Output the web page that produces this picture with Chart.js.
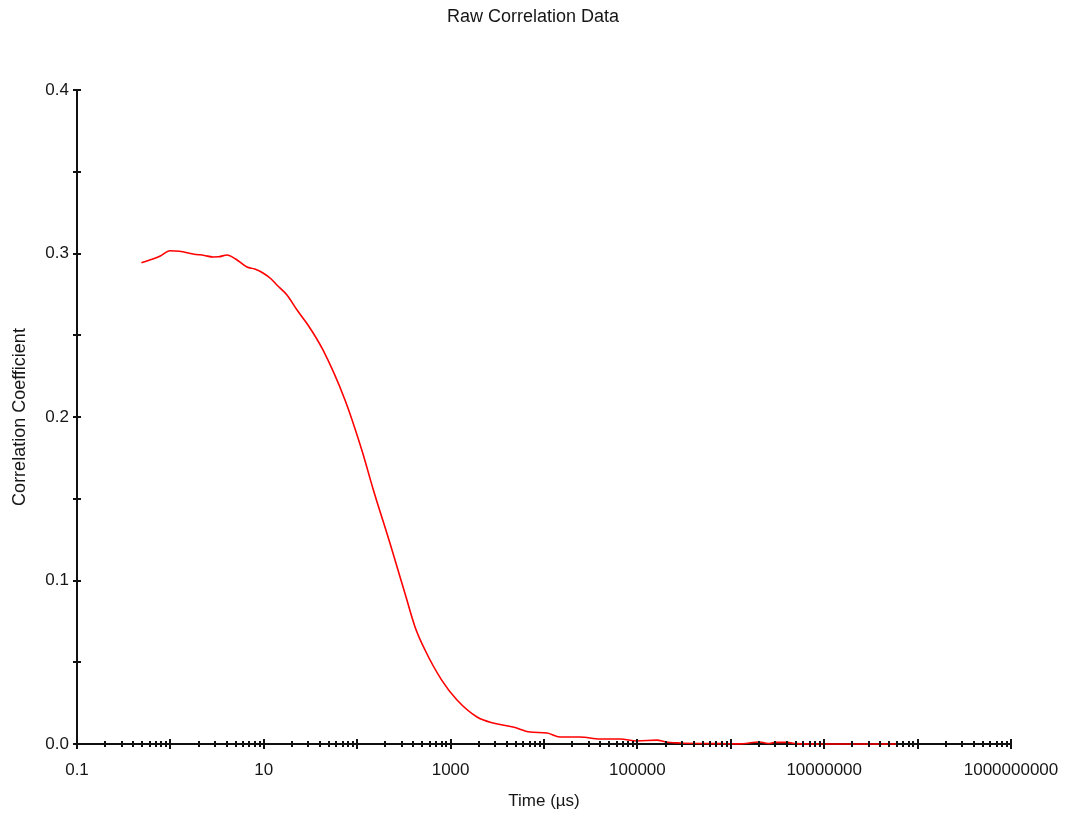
<!DOCTYPE html>
<html>
<head>
<meta charset="utf-8">
<title>Raw Correlation Data</title>
<script src="https://cdn.jsdelivr.net/npm/chart.js@4.4.1/dist/chart.umd.min.js"></script>
<style>
  html, body { margin: 0; padding: 0; background: #ffffff; }
  canvas { display: block; }
</style>
</head>
<body>
<canvas id="chart" width="1066" height="814"></canvas>
<script>
// Lag times (µs) and measured correlation coefficient
const lagTimes = [
  0.49, 0.62, 0.78, 0.99, 1.25, 1.75, 2.3, 2.86, 3.3, 4.04, 5.0, 6.6, 8.0, 9.8,
  12, 13.8, 17.7, 22.7, 29.7, 43, 74, 112, 149, 224, 254, 325, 416, 532, 803, 1171,
  1918, 2844, 4659, 7080, 10770, 14830, 24270, 39800, 65100, 99000, 162000,
  200000, 286000, 500000, 766000, 1200000, 2050000, 2500000, 3000000, 4000000,
  5000000, 9700000, 24000000, 60000000
];
const correlation = [
  0.2944, 0.2963, 0.2985, 0.3017, 0.3014, 0.2997, 0.2988, 0.2979, 0.2980, 0.2991, 0.2966, 0.2917, 0.2905, 0.2881,
  0.2844, 0.2807, 0.2746, 0.2654, 0.2563, 0.2410, 0.2104, 0.1798, 0.1554, 0.1229, 0.1125, 0.0920, 0.0716, 0.0575, 0.0391, 0.0269,
  0.0165, 0.0128, 0.0104, 0.0073, 0.0067, 0.0043, 0.0043, 0.0031, 0.0031, 0.0018, 0.0024,
  0.0012, 0.0006, 0.0003, 0.0002, 0.0001, 0.0012, 0.0003, 0.0010, 0.0010,
  0.0002, 0.0000, 0.0000, 0.0000
];

// Axis ticks: a tick at every 1..9 × 10^n, labels on every other decade
const xDecadeExponents = [-1, 0, 1, 2, 3, 4, 5, 6, 7, 8, 9];
const xLabelExponents = [-1, 1, 3, 5, 7, 9];
const xMantissas = [1, 2, 3, 4, 5, 6, 7, 8, 9];
const yTickValues = [0, 0.05, 0.1, 0.15, 0.2, 0.25, 0.3, 0.35, 0.4];
const yLabelValues = [0, 0.1, 0.2, 0.3, 0.4];

const FONT = "'Liberation Sans', Arial, sans-serif";
const TEXT = '#161616';

function decadeOf(v) {
  const e = Math.log10(v);
  return Math.abs(e - Math.round(e)) < 1e-9 ? Math.round(e) : null;
}

function buildXTicks() {
  const ticks = [];
  const last = xDecadeExponents[xDecadeExponents.length - 1];
  xDecadeExponents.forEach(e => {
    xMantissas.forEach(m => {
      if (e === last && m > 1) return;
      ticks.push({ value: m * Math.pow(10, e), major: m === 1 });
    });
  });
  return ticks;
}

// Cross-through tick marks along both axes, drawn on top of the curve
const crossTicks = {
  id: 'crossTicks',
  afterDatasetsDraw(chart) {
    const { ctx, scales: { x, y } } = chart;
    ctx.save();
    ctx.strokeStyle = '#111';
    ctx.lineWidth = 2;
    ctx.beginPath();
    x.ticks.forEach(t => {
      const px = Math.round(x.getPixelForValue(t.value));
      const h = t.major ? 5 : 3;
      ctx.moveTo(px, y.bottom - h);
      ctx.lineTo(px, y.bottom + h);
    });
    y.ticks.forEach(t => {
      const py = Math.round(y.getPixelForValue(t.value));
      ctx.moveTo(x.left - 4, py);
      ctx.lineTo(x.left + 4, py);
    });
    ctx.stroke();
    ctx.restore();
  }
};

new Chart(document.getElementById('chart'), {
  type: 'line',
  data: {
    datasets: [{
      data: lagTimes.map((t, i) => ({ x: t, y: correlation[i] })),
      borderColor: '#ff0000',
      borderWidth: 1.6,
      pointRadius: 0,
      cubicInterpolationMode: 'monotone',
      clip: false,
      fill: false
    }]
  },
  options: {
    responsive: false,
    animation: false,
    devicePixelRatio: 1,
    layout: { padding: 0 },
    plugins: {
      legend: { display: false },
      tooltip: { enabled: false },
      title: {
        display: true,
        text: 'Raw Correlation Data',
        color: TEXT,
        font: { family: FONT, size: 18, weight: 'normal' },
        padding: { top: 6, bottom: 62.4 }
      }
    },
    scales: {
      x: {
        type: 'logarithmic',
        min: 0.1,
        max: 1e9,
        afterBuildTicks(scale) { scale.ticks = buildXTicks(); },
        afterFit(scale) { scale.height = 70; scale.paddingRight = 55; },
        grid: { display: false, drawTicks: false },
        border: { display: true, color: '#111', width: 2 },
        ticks: {
          autoSkip: false,
          maxRotation: 0,
          padding: 16,
          color: TEXT,
          font: { family: FONT, size: 17 },
          callback(value) {
            const e = decadeOf(value);
            if (e === null || !xLabelExponents.includes(e)) return '';
            return e < 0 ? String(Math.pow(10, e)) : String(Math.round(Math.pow(10, e)));
          }
        },
        title: {
          display: true,
          text: 'Time (µs)',
          color: TEXT,
          font: { family: FONT, size: 17 },
          padding: { top: 0, bottom: 2 }
        }
      },
      y: {
        type: 'linear',
        min: 0,
        max: 0.4,
        afterBuildTicks(scale) { scale.ticks = yTickValues.map(v => ({ value: v })); },
        afterFit(scale) { scale.width = 77; },
        grid: { display: false, drawTicks: false },
        border: { display: true, color: '#111', width: 2 },
        ticks: {
          padding: 8,
          color: TEXT,
          font: { family: FONT, size: 17 },
          callback(value) {
            const hit = yLabelValues.some(v => Math.abs(v - value) < 1e-9);
            return hit ? value.toFixed(1) : '';
          }
        },
        title: {
          display: true,
          text: 'Correlation Coefficient',
          color: TEXT,
          font: { family: FONT, size: 18 },
          padding: { top: 9, bottom: 0 }
        }
      }
    }
  },
  plugins: [crossTicks]
});
</script>
</body>
</html>
